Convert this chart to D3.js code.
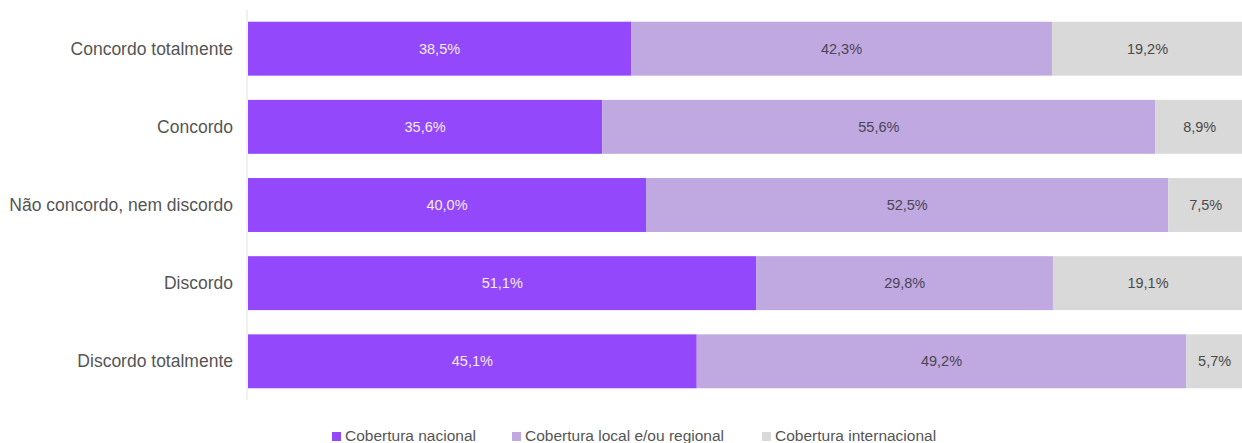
<!DOCTYPE html>
<html>
<head>
<meta charset="utf-8">
<script src="https://cdn.jsdelivr.net/npm/d3@7"></script>
<style>
  body { margin: 0; background: #fff; }
  text { font-family: "Liberation Sans", Arial, sans-serif; }
</style>
</head>
<body>
<svg id="chart" width="1242" height="443"></svg>
<script>
// categories and series
const categories = ["Concordo totalmente", "Concordo", "Não concordo, nem discordo", "Discordo", "Discordo totalmente"];
const seriesNames = ["Cobertura nacional", "Cobertura local e/ou regional", "Cobertura internacional"];
const nacional = [38.5, 35.6, 40.0, 51.1, 45.1];
const localRegional = [42.3, 55.6, 52.5, 29.8, 49.2];
const internacional = [19.2, 8.9, 7.5, 19.1, 5.7];
const colors = ["#9448fc", "#c0a8e0", "#d9d9d9"];
const labelColors = ["#f3ecff", "#4b4556", "#4a4a4a"];

const svg = d3.select("#chart");
const margin = { left: 248, right: 0, top: 10, bottom: 43 };
const width = 1243;

const rows = categories.map((c, i) => ({ cat: c, vals: [nacional[i], localRegional[i], internacional[i]] }));

const x = d3.scaleLinear().domain([0, 100]).range([margin.left, width]);
const y = d3.scaleBand().domain(categories).range([margin.top, 400]).paddingInner(0.31).paddingOuter(0.15);

// axis line
svg.append("line")
  .attr("x1", margin.left - 1).attr("x2", margin.left - 1)
  .attr("y1", margin.top).attr("y2", 400)
  .attr("stroke", "#e3e3e3").attr("stroke-width", 1);

// category labels
svg.selectAll(".cat")
  .data(categories)
  .join("text")
  .attr("x", 233)
  .attr("y", d => y(d) + y.bandwidth() / 2)
  .attr("dy", "0.35em")
  .attr("text-anchor", "end")
  .attr("font-size", 17.5)
  .attr("fill", "#555")
  .text(d => d);

// stacked bars
rows.forEach(r => {
  let acc = 0;
  r.segs = r.vals.map((v, k) => {
    const s = { k, v, x0: acc, x1: acc + v, cat: r.cat };
    acc += v;
    return s;
  });
});
const segs = rows.flatMap(r => r.segs);

svg.selectAll(".bar")
  .data(segs)
  .join("rect")
  .attr("x", d => x(d.x0))
  .attr("y", d => y(d.cat))
  .attr("width", d => x(d.x1) - x(d.x0))
  .attr("height", y.bandwidth())
  .attr("fill", d => colors[d.k]);

svg.selectAll(".val")
  .data(segs)
  .join("text")
  .attr("x", d => (x(d.x0) + x(d.x1)) / 2)
  .attr("y", d => y(d.cat) + y.bandwidth() / 2)
  .attr("dy", "0.35em")
  .attr("text-anchor", "middle")
  .attr("font-size", 14.5)
  .attr("fill", d => labelColors[d.k])
  .text(d => d.v.toFixed(1).replace(".", ",") + "%");

// legend
const legendX = [332, 512, 762];
const legend = svg.selectAll(".leg")
  .data(seriesNames)
  .join("g")
  .attr("transform", (d, i) => `translate(${legendX[i]},441)`);
legend.append("rect")
  .attr("x", 0).attr("y", -9).attr("width", 9).attr("height", 9)
  .attr("fill", (d, i) => colors[i]);
legend.append("text")
  .attr("x", 13).attr("y", 0)
  .attr("font-size", 15.5)
  .attr("fill", "#555")
  .text(d => d);
</script>
</body>
</html>
